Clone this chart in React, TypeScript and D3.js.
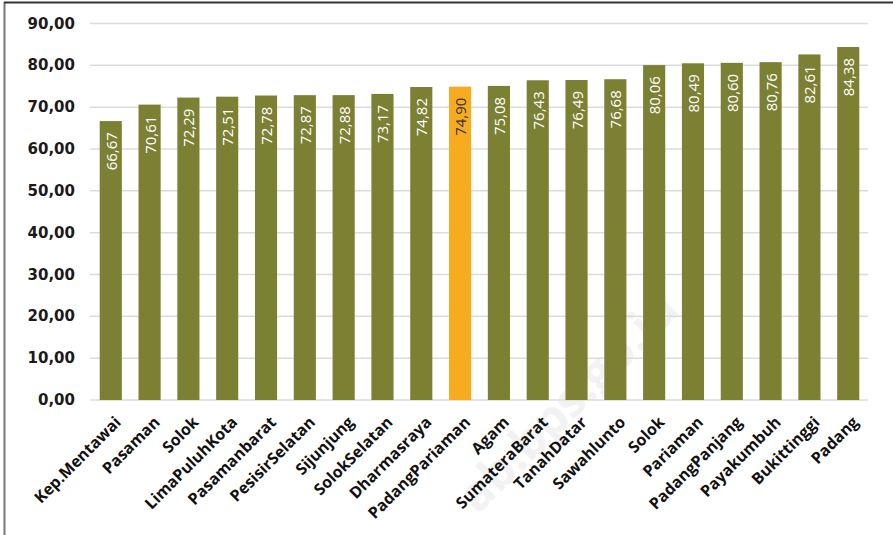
import React from "react";
import * as d3 from "d3";

const categories = [
  "Kep.Mentawai", "Pasaman", "Solok", "LimaPuluhKota", "Pasamanbarat",
  "PesisirSelatan", "Sijunjung", "SolokSelatan", "Dharmasraya", "PadangPariaman",
  "Agam", "SumateraBarat", "TanahDatar", "Sawahlunto", "Solok",
  "Pariaman", "PadangPanjang", "Payakumbuh", "Bukittinggi", "Padang",
];
const values = [
  66.67, 70.61, 72.29, 72.51, 72.78, 72.87, 72.88, 73.17, 74.82, 74.9,
  75.08, 76.43, 76.49, 76.68, 80.06, 80.49, 80.6, 80.76, 82.61, 84.38,
];
const highlighted = ["PadangPariaman"];
const yTicks = [0, 10, 20, 30, 40, 50, 60, 70, 80, 90];

const W = 893;
const H = 535;
const fmt = (v: number) => v.toFixed(2).replace(".", ",");

export default function App() {
  const keys = categories.map((c, i) => `${i}`);
  const x = d3.scaleBand<string>().domain(keys).range([90, 869]).paddingInner(0.43).paddingOuter(0.25);
  const y = d3.scaleLinear().domain([0, 90]).range([400, 23.5]);
  const olive = "#7b8033";
  const orange = "#f7ac1f";
  return (
    <svg width={W} height={H} style={{ position: "absolute", left: 0, top: 0, background: "#fff" }}>
      <rect x={0} y={0} width={W} height={H} fill="#fff" />
      <text
        x={0}
        y={0}
        transform="translate(478,515) rotate(-45)"
        fontFamily="Open Sans, sans-serif"
        fontWeight={700}
        fontSize={48}
        fill="#f2f2f2"
      >
        ab.bps.go.id
      </text>
      {yTicks.map((t) => (
        <g key={t}>
          <line x1={90} x2={868} y1={y(t)} y2={y(t)} stroke="#dcdcdc" strokeWidth={1.5} />
          <text
            x={75}
            y={y(t)}
            textAnchor="end"
            dominantBaseline="central"
            fontFamily="DejaVu Sans, sans-serif"
            fontWeight={700}
            fontSize={15}
            fill="#1a1a1a"
          >
            {fmt(t)}
          </text>
        </g>
      ))}
      {categories.map((c, i) => {
        const k = keys[i];
        const hi = highlighted.includes(c);
        const cx = (x(k) as number) + x.bandwidth() / 2;
        const top = y(values[i]);
        return (
          <g key={k}>
            <rect x={x(k)} y={top} width={x.bandwidth()} height={y(0) - top} fill={hi ? orange : olive} />
            <text
              transform={`translate(${cx},${top + 11}) rotate(-90)`}
              textAnchor="end"
              dominantBaseline="central"
              fontFamily="Open Sans, sans-serif"
              fontSize={15}
              fill={hi ? "#333" : "#fff"}
            >
              {fmt(values[i])}
            </text>
            <text
              transform={`translate(${cx + 7},${419}) rotate(-45)`}
              textAnchor="end"
              dominantBaseline="central"
              fontFamily="Open Sans, sans-serif"
              fontWeight={700}
              fontSize={16}
              fill="#111"
            >
              {c}
            </text>
          </g>
        );
      })}
      <line x1={4.5} x2={4.5} y1={2} y2={H} stroke="#777" strokeWidth={2} />
      <line x1={4} x2={W} y1={2.5} y2={2.5} stroke="#333" strokeWidth={2} />
    </svg>
  );
}
